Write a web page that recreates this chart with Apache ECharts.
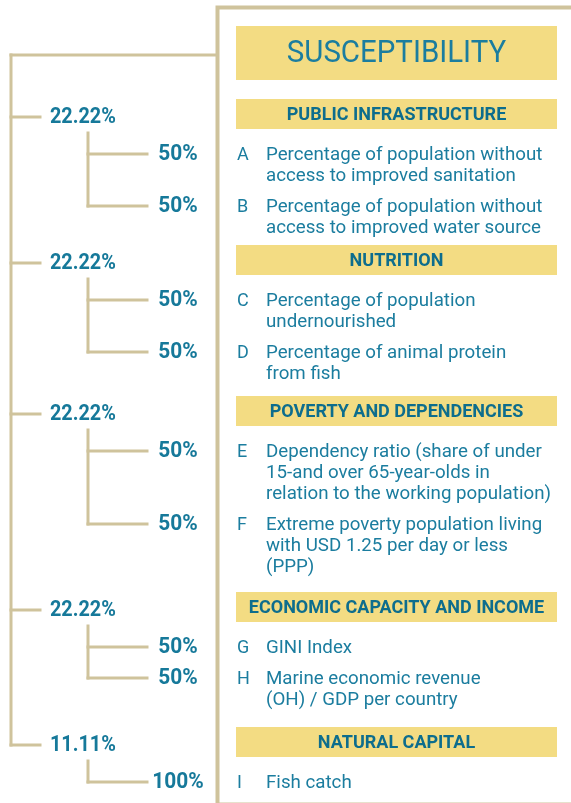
<!DOCTYPE html>
<html>
<head>
<meta charset="utf-8">
<script src="https://cdn.jsdelivr.net/npm/echarts@6/dist/echarts.min.js"></script>
<style>
  html, body { margin: 0; padding: 0; background: #fff; }
  #chart { width: 571px; height: 803px; }
</style>
</head>
<body>
<div id="chart"></div>
<script>
// --- data ---
const title = 'SUSCEPTIBILITY';
const groupNames = ['PUBLIC INFRASTRUCTURE', 'NUTRITION', 'POVERTY AND DEPENDENCIES', 'ECONOMIC CAPACITY AND INCOME', 'NATURAL CAPITAL'];
const groupWeights = [22.22, 22.22, 22.22, 22.22, 11.11];
const itemLetters = ['A', 'B', 'C', 'D', 'E', 'F', 'G', 'H', 'I'];
const itemGroups = [0, 0, 1, 1, 2, 2, 3, 3, 4];
const itemWeights = [50, 50, 50, 50, 50, 50, 50, 50, 100];
const itemTexts = [
  'Percentage of population without\naccess to improved sanitation',
  'Percentage of population without\naccess to improved water source',
  'Percentage of population\nundernourished',
  'Percentage of animal protein\nfrom fish',
  'Dependency ratio (share of under\n15-and over 65-year-olds in\nrelation to the working population)',
  'Extreme poverty population living\nwith USD 1.25 per day or less\n(PPP)',
  'GINI Index',
  'Marine economic revenue\n(OH) / GDP per country',
  'Fish catch'
];

// --- layout / style ---
const TEAL = '#1b7d9f', DARK = '#0d6d8d', GOLD = '#f3dc83', TAN = '#cfc39c';
const panelL = 236, panelR = 557;
const titleTop = 26, titleH = 54;
const headerTops = [99, 245, 396, 592, 727];
const headerH = 30, afterHeader = 25, lineH = 21, itemGap = 31;
const trunkX = [11, 88], branchEnd = [40, 147], frameX = 217;

// first-line centre of each item, stacked under its header
const itemY = [];
headerTops.forEach((top, g) => {
  let y = top + headerH + afterHeader;
  itemGroups.forEach((ig, i) => {
    if (ig !== g) return;
    itemY[i] = y;
    y += (itemTexts[i].split('\n').length - 1) * lineH + itemGap;
  });
});
const groupY = headerTops.map(t => t + headerH / 2 + 3);
const titleY = titleTop + titleH / 2 + 2;

// panel blocks
const blocks = [{ kind: 'title', y: titleTop }]
  .concat(groupNames.map((n, g) => ({ kind: 'header', g, y: headerTops[g] })))
  .concat(itemTexts.map((t, i) => ({ kind: 'item', i, y: itemY[i] })));

// tree nodes
const nodes = [{ depth: 0, y: titleY }]
  .concat(groupWeights.map((w, g) => ({ depth: 1, g, y: groupY[g] })))
  .concat(itemWeights.map((w, i) => ({ depth: 2, i, y: itemY[i] })));

function line(a, b) {
  return { type: 'line', shape: { x1: a[0], y1: a[1], x2: b[0], y2: b[1] }, style: { stroke: TAN, lineWidth: 3, lineCap: 'square' } };
}

function renderTree(params, api) {
  const n = nodes[params.dataIndex];
  const c = k => api.coord(k);
  const kids = [];
  if (n.depth === 0) {
    const lastY = groupY[groupY.length - 1];
    kids.push(line(c([frameX, n.y]), c([trunkX[0], n.y])));
    kids.push(line(c([trunkX[0], n.y]), c([trunkX[0], lastY])));
  } else if (n.depth === 1) {
    const childY = itemY.filter((y, i) => itemGroups[i] === n.g);
    kids.push(line(c([trunkX[0], n.y]), c([branchEnd[0], n.y])));
    kids.push(line(c([trunkX[1], n.y + 16]), c([trunkX[1], childY[childY.length - 1]])));
    const p = c([50, n.y]);
    kids.push({ type: 'text', x: p[0], y: p[1], scaleX: 0.9,
      style: { text: groupWeights[n.g].toFixed(2) + '%', fill: '#16799a', font: 'bold 22px Roboto', align: 'left', verticalAlign: 'middle' } });
  } else {
    kids.push(line(c([trunkX[1], n.y]), c([branchEnd[1], n.y])));
    const p = c([178, n.y]);
    kids.push({ type: 'text', x: p[0], y: p[1], scaleX: 0.95,
      style: { text: itemWeights[n.i] + '%', fill: '#16799a', font: 'bold 22px Roboto', align: 'center', verticalAlign: 'middle' } });
  }
  return { type: 'group', children: kids };
}

function renderPanel(params, api) {
  const b = blocks[params.dataIndex];
  const tl = api.coord([panelL, b.y]);
  const w = api.coord([panelR, 0])[0] - tl[0];
  const mid = tl[0] + w / 2;
  if (b.kind === 'title') {
    return { type: 'group', children: [
      { type: 'rect', shape: { x: tl[0], y: tl[1], width: w, height: titleH }, style: { fill: GOLD } },
      { type: 'text', x: mid, y: tl[1] + titleH / 2 + 1, scaleX: 0.92,
        style: { text: title, fill: TEAL, font: '32px Roboto', align: 'center', verticalAlign: 'middle' } }
    ] };
  }
  if (b.kind === 'header') {
    return { type: 'group', children: [
      { type: 'rect', shape: { x: tl[0], y: tl[1], width: w, height: headerH }, style: { fill: GOLD } },
      { type: 'text', x: mid, y: tl[1] + headerH / 2 + 1, scaleX: 1.0,
        style: { text: groupNames[b.g], fill: DARK, font: 'bold 18px Roboto', align: 'center', verticalAlign: 'middle' } }
    ] };
  }
  const y0 = tl[1] - lineH / 2 + 1;
  return { type: 'group', children: [
    { type: 'text', x: tl[0] + 1, y: y0, style: { text: itemLetters[b.i], fill: TEAL, font: '18px Roboto', align: 'left', verticalAlign: 'top', lineHeight: lineH } },
    { type: 'text', x: tl[0] + 30, y: y0, scaleX: 1.04, style: { text: itemTexts[b.i], fill: TEAL, font: '18px Roboto', align: 'left', verticalAlign: 'top', lineHeight: lineH } }
  ] };
}

const chart = echarts.init(document.getElementById('chart'));
chart.setOption({
  animation: false,
  grid: { left: 0, right: 0, top: 0, bottom: 0 },
  xAxis: { type: 'value', min: 0, max: 571, show: false },
  yAxis: { type: 'value', min: 0, max: 803, inverse: true, show: false },
  graphic: [{
    type: 'rect', left: frameX - 2, top: 5, z: 0,
    shape: { width: 400, height: 797 }, style: { fill: 'none', stroke: TAN, lineWidth: 4 }
  }],
  series: [
    { type: 'custom', name: 'tree', renderItem: renderTree, data: nodes.map(n => [0, n.y]), clip: false, silent: true },
    { type: 'custom', name: 'panel', renderItem: renderPanel, data: blocks.map(b => [panelL, b.y]), clip: false, silent: true }
  ]
});
</script>
</body>
</html>
